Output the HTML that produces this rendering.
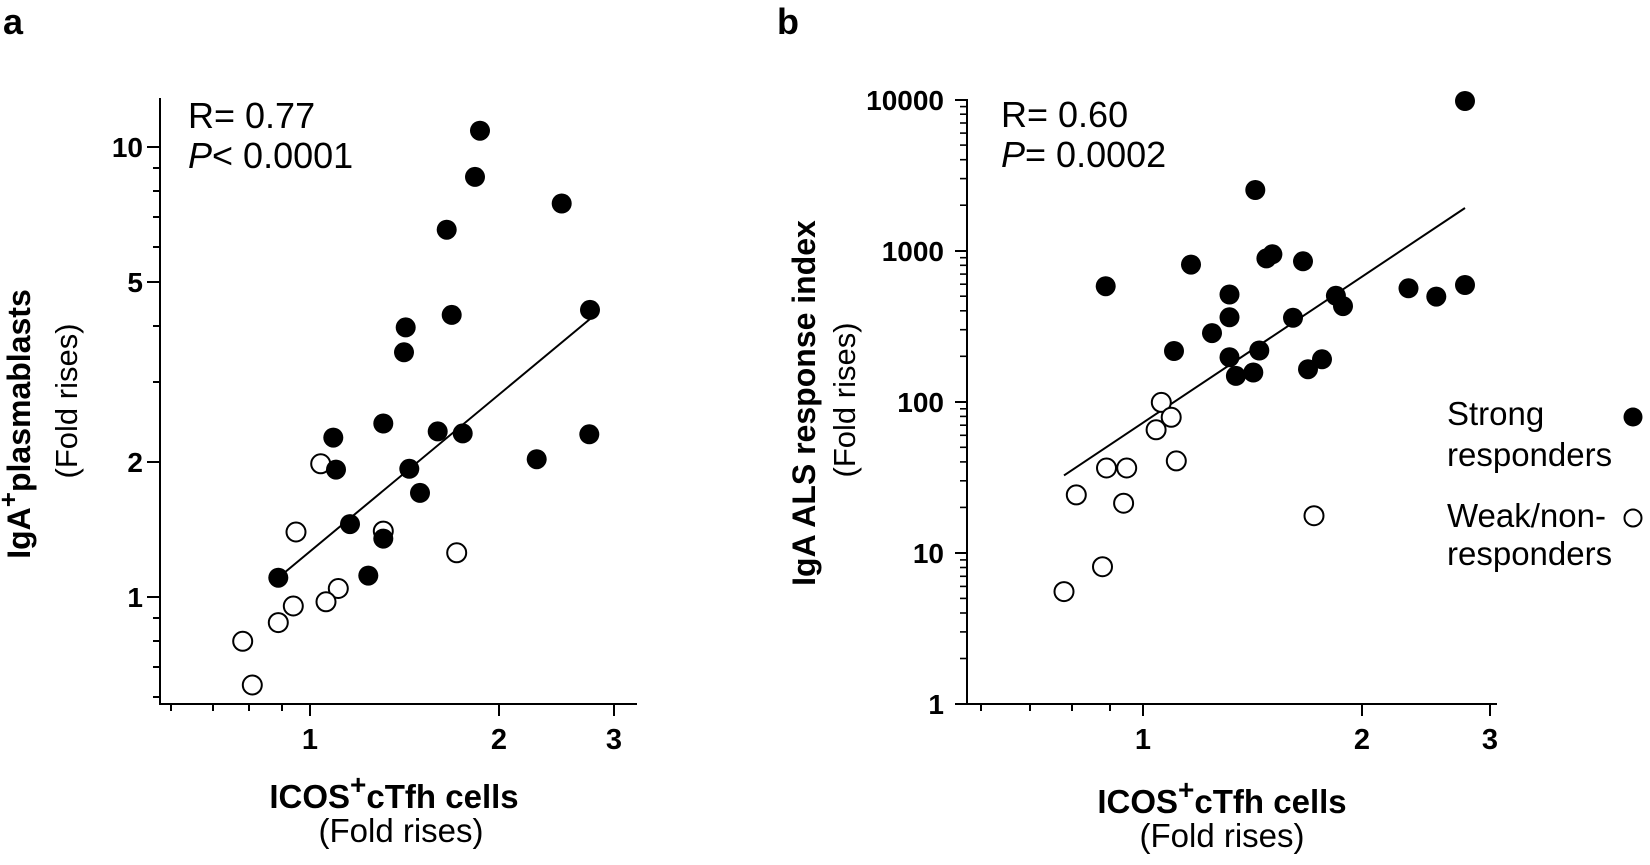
<!DOCTYPE html>
<html><head><meta charset="utf-8"><style>
html,body{margin:0;padding:0;background:#fff;}
svg{display:block;font-family:"Liberation Sans",Arial,sans-serif;}
</style></head><body>
<svg width="1650" height="865" viewBox="0 0 1650 865" xmlns="http://www.w3.org/2000/svg">
<g id="A">
<text x="3" y="34" font-size="36" font-weight="bold">a</text>
<g stroke="#000" stroke-width="2" fill="none">
<line x1="160" y1="98" x2="160" y2="705"/>
<line x1="159" y1="704" x2="637" y2="704"/>
<line x1="147" y1="597" x2="160" y2="597"/>
<line x1="147" y1="462" x2="160" y2="462"/>
<line x1="147" y1="282" x2="160" y2="282"/>
<line x1="147" y1="147" x2="160" y2="147"/>
<line x1="153" y1="697" x2="160" y2="697"/>
<line x1="153" y1="667" x2="160" y2="667"/>
<line x1="153" y1="641" x2="160" y2="641"/>
<line x1="153" y1="618" x2="160" y2="618"/>
<line x1="153" y1="382" x2="160" y2="382"/>
<line x1="153" y1="326" x2="160" y2="326"/>
<line x1="153" y1="247" x2="160" y2="247"/>
<line x1="153" y1="217" x2="160" y2="217"/>
<line x1="153" y1="191" x2="160" y2="191"/>
<line x1="153" y1="168" x2="160" y2="168"/>
<line x1="171" y1="704" x2="171" y2="711"/>
<line x1="213" y1="704" x2="213" y2="711"/>
<line x1="249" y1="704" x2="249" y2="711"/>
<line x1="282" y1="704" x2="282" y2="711"/>
<line x1="310" y1="704" x2="310" y2="716"/>
<line x1="499" y1="704" x2="499" y2="716"/>
<line x1="614" y1="704" x2="614" y2="716"/>
</g>
<g font-size="28" font-weight="bold" text-anchor="end">
<text x="143" y="607">1</text>
<text x="143" y="472">2</text>
<text x="143" y="292">5</text>
<text x="143" y="157">10</text>
</g>
<g font-size="29" font-weight="bold" text-anchor="middle">
<text x="310" y="749">1</text>
<text x="499" y="749">2</text>
<text x="614" y="749">3</text>
</g>
<text x="188" y="128" font-size="36">R= 0.77</text>
<text x="188" y="168" font-size="36"><tspan font-style="italic">P</tspan>&lt; 0.0001</text>
<text transform="translate(30,424) rotate(-90)" text-anchor="middle" font-size="32" font-weight="bold">IgA<tspan font-size="26" dy="-13">+</tspan><tspan dy="13">plasmablasts</tspan></text>
<text transform="translate(77,401) rotate(-90)" text-anchor="middle" font-size="31">(Fold rises)</text>
<text x="394" y="808" text-anchor="middle" font-size="33" font-weight="bold">ICOS<tspan font-size="28" dy="-14">+</tspan><tspan dy="14">cTfh cells</tspan></text>
<text x="401" y="842" text-anchor="middle" font-size="33">(Fold rises)</text>
<line x1="278" y1="578" x2="590" y2="319" stroke="#000" stroke-width="2"/>
<g fill="#fff" stroke="#000" stroke-width="2">
<circle cx="320.7" cy="463.8" r="9.5"/>
<circle cx="296" cy="532" r="9.5"/>
<circle cx="383.3" cy="531.1" r="9.5"/>
<circle cx="456.7" cy="552.8" r="9.5"/>
<circle cx="338.3" cy="588.5" r="9.5"/>
<circle cx="326" cy="601.8" r="9.5"/>
<circle cx="293.3" cy="606" r="9.5"/>
<circle cx="278.3" cy="622.6" r="9.5"/>
<circle cx="242.7" cy="641.3" r="9.5"/>
<circle cx="252.3" cy="685" r="9.5"/>
</g>
<g fill="#000">
<circle cx="480" cy="130.7" r="10"/>
<circle cx="475" cy="176.9" r="10"/>
<circle cx="561.7" cy="203.5" r="10"/>
<circle cx="446.7" cy="229.7" r="10"/>
<circle cx="451.7" cy="314.9" r="10"/>
<circle cx="590" cy="309.9" r="10"/>
<circle cx="405.7" cy="327.4" r="10"/>
<circle cx="404" cy="352.3" r="10"/>
<circle cx="383.3" cy="423.5" r="10"/>
<circle cx="333.3" cy="437.6" r="10"/>
<circle cx="437.7" cy="431.4" r="10"/>
<circle cx="462.7" cy="433.4" r="10"/>
<circle cx="589.3" cy="434.3" r="10"/>
<circle cx="336" cy="469.6" r="10"/>
<circle cx="409.3" cy="468.8" r="10"/>
<circle cx="536.7" cy="459.2" r="10"/>
<circle cx="420" cy="492.9" r="10"/>
<circle cx="350" cy="524.1" r="10"/>
<circle cx="383.3" cy="538.6" r="10"/>
<circle cx="278.3" cy="577.7" r="10"/>
<circle cx="368.3" cy="575.6" r="10"/>
</g>
</g>

<g id="B">
<text x="777" y="34" font-size="36" font-weight="bold">b</text>
<g stroke="#000" stroke-width="2" fill="none">
<line x1="967" y1="99" x2="967" y2="705"/>
<line x1="966" y1="704" x2="1497" y2="704"/>
<line x1="955" y1="704" x2="967" y2="704"/>
<line x1="955" y1="553" x2="967" y2="553"/>
<line x1="955" y1="402" x2="967" y2="402"/>
<line x1="955" y1="251" x2="967" y2="251"/>
<line x1="955" y1="100" x2="967" y2="100"/>
</g>
<g stroke="#000" stroke-width="1.6">
<line x1="960" y1="658.5" x2="967" y2="658.5"/>
<line x1="960" y1="631.9" x2="967" y2="631.9"/>
<line x1="960" y1="613.0" x2="967" y2="613.0"/>
<line x1="960" y1="598.4" x2="967" y2="598.4"/>
<line x1="960" y1="586.4" x2="967" y2="586.4"/>
<line x1="960" y1="576.3" x2="967" y2="576.3"/>
<line x1="960" y1="567.5" x2="967" y2="567.5"/>
<line x1="960" y1="559.9" x2="967" y2="559.9"/>
<g transform="translate(0,-151.1)">
<line x1="960" y1="658.5" x2="967" y2="658.5"/><line x1="960" y1="631.9" x2="967" y2="631.9"/><line x1="960" y1="613.0" x2="967" y2="613.0"/><line x1="960" y1="598.4" x2="967" y2="598.4"/><line x1="960" y1="586.4" x2="967" y2="586.4"/><line x1="960" y1="576.3" x2="967" y2="576.3"/><line x1="960" y1="567.5" x2="967" y2="567.5"/><line x1="960" y1="559.9" x2="967" y2="559.9"/>
</g>
<g transform="translate(0,-302.2)">
<line x1="960" y1="658.5" x2="967" y2="658.5"/><line x1="960" y1="631.9" x2="967" y2="631.9"/><line x1="960" y1="613.0" x2="967" y2="613.0"/><line x1="960" y1="598.4" x2="967" y2="598.4"/><line x1="960" y1="586.4" x2="967" y2="586.4"/><line x1="960" y1="576.3" x2="967" y2="576.3"/><line x1="960" y1="567.5" x2="967" y2="567.5"/><line x1="960" y1="559.9" x2="967" y2="559.9"/>
</g>
<g transform="translate(0,-453.3)">
<line x1="960" y1="658.5" x2="967" y2="658.5"/><line x1="960" y1="631.9" x2="967" y2="631.9"/><line x1="960" y1="613.0" x2="967" y2="613.0"/><line x1="960" y1="598.4" x2="967" y2="598.4"/><line x1="960" y1="586.4" x2="967" y2="586.4"/><line x1="960" y1="576.3" x2="967" y2="576.3"/><line x1="960" y1="567.5" x2="967" y2="567.5"/><line x1="960" y1="559.9" x2="967" y2="559.9"/>
</g>
</g>
<g stroke="#000" stroke-width="2">
<line x1="981" y1="704" x2="981" y2="711"/>
<line x1="1030" y1="704" x2="1030" y2="711"/>
<line x1="1072" y1="704" x2="1072" y2="711"/>
<line x1="1110" y1="704" x2="1110" y2="711"/>
<line x1="1143" y1="704" x2="1143" y2="716"/>
<line x1="1362" y1="704" x2="1362" y2="716"/>
<line x1="1490" y1="704" x2="1490" y2="716"/>
</g>
<g font-size="28" font-weight="bold" text-anchor="end">
<text x="944" y="714">1</text>
<text x="944" y="563">10</text>
<text x="944" y="412">100</text>
<text x="944" y="261">1000</text>
<text x="944" y="110">10000</text>
</g>
<g font-size="29" font-weight="bold" text-anchor="middle">
<text x="1143" y="749">1</text>
<text x="1362" y="749">2</text>
<text x="1490" y="749">3</text>
</g>
<text x="1001" y="127" font-size="36">R= 0.60</text>
<text x="1001" y="167" font-size="36"><tspan font-style="italic">P</tspan>= 0.0002</text>
<text transform="translate(815,403) rotate(-90)" text-anchor="middle" font-size="32" font-weight="bold">IgA ALS response index</text>
<text transform="translate(855,400) rotate(-90)" text-anchor="middle" font-size="31">(Fold rises)</text>
<text x="1222" y="813" text-anchor="middle" font-size="33" font-weight="bold">ICOS<tspan font-size="28" dy="-14">+</tspan><tspan dy="14">cTfh cells</tspan></text>
<text x="1222" y="847" text-anchor="middle" font-size="33">(Fold rises)</text>
<line x1="1064" y1="475.4" x2="1465" y2="208" stroke="#000" stroke-width="2"/>
<g fill="#fff" stroke="#000" stroke-width="2">
<circle cx="1161.3" cy="402.4" r="9.5"/>
<circle cx="1171.2" cy="417.3" r="9.5"/>
<circle cx="1156.1" cy="429.8" r="9.5"/>
<circle cx="1176.3" cy="460.9" r="9.5"/>
<circle cx="1106.5" cy="468" r="9.5"/>
<circle cx="1126.7" cy="468" r="9.5"/>
<circle cx="1076.3" cy="494.9" r="9.5"/>
<circle cx="1123.6" cy="503.2" r="9.5"/>
<circle cx="1314" cy="515.7" r="9.5"/>
<circle cx="1102.5" cy="566.7" r="9.5"/>
<circle cx="1064" cy="591.6" r="9.5"/>
</g>
<g fill="#000">
<circle cx="1255.3" cy="190" r="10"/>
<circle cx="1105.7" cy="286.2" r="10"/>
<circle cx="1191" cy="264.6" r="10"/>
<circle cx="1266.4" cy="258.4" r="10"/>
<circle cx="1272.4" cy="254.3" r="10"/>
<circle cx="1303" cy="261.3" r="10"/>
<circle cx="1229.5" cy="294.5" r="10"/>
<circle cx="1229.5" cy="317.3" r="10"/>
<circle cx="1212" cy="333.1" r="10"/>
<circle cx="1174" cy="351" r="10"/>
<circle cx="1229.5" cy="357.2" r="10"/>
<circle cx="1235.9" cy="375.9" r="10"/>
<circle cx="1253.3" cy="372.5" r="10"/>
<circle cx="1259.3" cy="350.5" r="10"/>
<circle cx="1293" cy="317.8" r="10"/>
<circle cx="1335.9" cy="295.8" r="10"/>
<circle cx="1343" cy="306.1" r="10"/>
<circle cx="1308" cy="369.2" r="10"/>
<circle cx="1322" cy="359.3" r="10"/>
<circle cx="1408.5" cy="288.3" r="10"/>
<circle cx="1436.3" cy="296.6" r="10"/>
<circle cx="1465" cy="285" r="10"/>
<circle cx="1465" cy="101" r="10"/>
</g>
<g font-size="33">
<text x="1447" y="425">Strong</text>
<text x="1447" y="466">responders</text>
<text x="1447" y="527">Weak/non-</text>
<text x="1447" y="565">responders</text>
</g>
<circle cx="1633" cy="417" r="9.5" fill="#000"/>
<circle cx="1633" cy="518" r="8.5" fill="#fff" stroke="#000" stroke-width="2"/>
</g>
</svg>
</body></html>
